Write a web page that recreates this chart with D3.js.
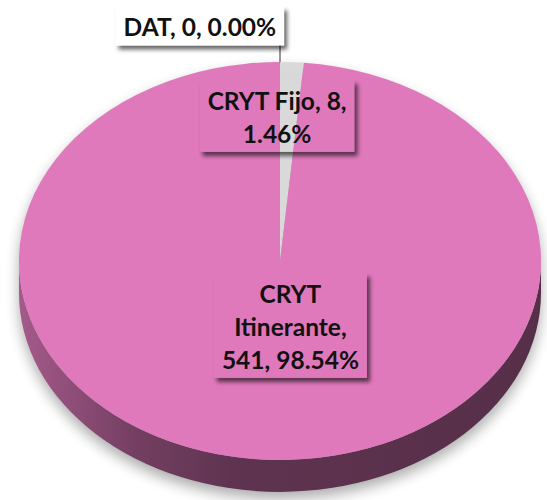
<!DOCTYPE html>
<html><head><meta charset="utf-8">
<script src="https://cdn.jsdelivr.net/npm/d3@7"></script>
<style>html,body{margin:0;padding:0;background:#fff;} svg{display:block;}</style>
</head><body>
<svg id="chart" width="547" height="500"></svg>
<script>
// Data
const categories = ["DAT", "CRYT Fijo", "CRYT Itinerante"];
const values = [0, 8, 541];
const colors = ["#4f81bd", "#d9d9d9", "#df79bc"];

// Layout
const W = 547, H = 500;
const cx = 280, cy = 261, rx = 261, ry = 199, depth = 32;
// label box centres, as fractions of the radii measured from the pie centre
const labelCenter = [[-0.307, -1.181], [-0.011, -0.729], [0.04, 0.324]];
const labelFill = ["#ffffff", "none", "none"];
const maxLabelWidth = 158, fontSize = 24.5, lineH = 33;
const fontFamily = "Lato, 'Open Sans', sans-serif";

const svg = d3.select("#chart");
const defs = svg.append("defs");

const total = d3.sum(values);
const pct = d3.format(".2%");
const arcs = d3.pie().sort(null).value(d => d)(values);

const pt = (a, dy = 0) => [cx + rx * Math.sin(a), cy - ry * Math.cos(a) + dy];

// filters
const pieShadow = defs.append("filter").attr("id", "pieShadow")
  .attr("x", "-20%").attr("y", "-20%").attr("width", "140%").attr("height", "140%");
pieShadow.append("feGaussianBlur").attr("stdDeviation", 7);

const boxShadow = defs.append("filter").attr("id", "boxShadow")
  .attr("x", "-20%").attr("y", "-40%").attr("width", "140%").attr("height", "180%");
boxShadow.append("feGaussianBlur").attr("stdDeviation", 2.2);

// soft shadow under the whole pie
svg.append("path")
  .attr("d", `M${cx - rx},${cy} A${rx},${ry} 0 0 1 ${cx + rx},${cy} L${cx + rx},${cy + depth} A${rx},${ry} 0 0 1 ${cx - rx},${cy + depth} Z`)
  .attr("transform", "translate(0,7)")
  .attr("fill", "#000").attr("opacity", 0.32)
  .attr("filter", "url(#pieShadow)");

// side walls (front half only)
const sideStops = [[0, 0.74], [0.22, 0.52], [0.42, 0.42], [1, 0.39]];
arcs.forEach((d, i) => {
  const s = Math.max(d.startAngle, Math.PI / 2), e = Math.min(d.endAngle, 3 * Math.PI / 2);
  if (e <= s) return;
  const base = d3.rgb(colors[i]);
  const g = defs.append("linearGradient").attr("id", "side" + i)
    .attr("gradientUnits", "userSpaceOnUse")
    .attr("x1", cx - rx).attr("x2", cx + rx).attr("y1", 0).attr("y2", 0);
  sideStops.forEach(([o, k]) => {
    g.append("stop").attr("offset", o)
      .attr("stop-color", d3.rgb(base.r * k, base.g * k, base.b * k).formatHex());
  });
  const p1 = pt(s), p2 = pt(e);
  const large = (e - s) > Math.PI ? 1 : 0;
  svg.append("path")
    .attr("d", `M${p1} A${rx},${ry} 0 ${large} 1 ${p2} L${pt(e, depth)} A${rx},${ry} 0 ${large} 0 ${pt(s, depth)} Z`)
    .attr("fill", `url(#side${i})`);
});

// top face
arcs.forEach((d, i) => {
  if (d.endAngle - d.startAngle <= 0) return;
  const large = (d.endAngle - d.startAngle) > Math.PI ? 1 : 0;
  svg.append("path")
    .attr("d", `M${cx},${cy} L${pt(d.startAngle)} A${rx},${ry} 0 ${large} 1 ${pt(d.endAngle)} Z`)
    .attr("fill", colors[i]);
});

// label text wrapping
const measure = svg.append("text").attr("font-family", fontFamily)
  .attr("font-weight", 700).attr("font-size", fontSize).attr("visibility", "hidden");
const textWidth = s => { measure.text(s); return measure.node().getComputedTextLength(); };
function wrap(str) {
  const words = str.split(" ");
  const lines = [];
  let cur = "";
  words.forEach(w => {
    const t = cur ? cur + " " + w : w;
    if (cur && textWidth(t) > maxLabelWidth) { lines.push(cur); cur = w; }
    else cur = t;
  });
  if (cur) lines.push(cur);
  return lines;
}

arcs.forEach((d, i) => {
  const lines = wrap(`${categories[i]}, ${values[i]}, ${pct(values[i] / total)}`);
  const tw = d3.max(lines, textWidth);
  const bw = tw + 16, bh = (lines.length - 1) * lineH + 39;
  const bx = cx + labelCenter[i][0] * rx, by = cy + labelCenter[i][1] * ry;
  const x0 = bx - bw / 2, y0 = by - bh / 2;

  // leader line for a label placed outside the pie
  if (labelCenter[i][1] < -1) {
    const p = pt((d.startAngle + d.endAngle) / 2);
    svg.append("line")
      .attr("x1", p[0]).attr("x2", p[0]).attr("y1", y0 + bh - 2).attr("y2", p[1])
      .attr("stroke", "#5f5f5f").attr("stroke-width", 1.3);
  }

  // box shadow, masked so it only shows outside the box
  const m = defs.append("mask").attr("id", "mask" + i).attr("maskUnits", "userSpaceOnUse")
    .attr("x", 0).attr("y", 0).attr("width", W).attr("height", H);
  m.append("rect").attr("width", W).attr("height", H).attr("fill", "#fff");
  m.append("rect").attr("x", x0).attr("y", y0).attr("width", bw).attr("height", bh).attr("fill", "#000");
  svg.append("g").attr("mask", `url(#mask${i})`)
    .append("rect").attr("x", x0 + 3).attr("y", y0 + 4).attr("width", bw).attr("height", bh)
    .attr("fill", "#000").attr("opacity", 0.6).attr("filter", "url(#boxShadow)");

  svg.append("rect").attr("x", x0).attr("y", y0).attr("width", bw).attr("height", bh)
    .attr("fill", labelFill[i]);

  const t = svg.append("text").attr("font-family", fontFamily).attr("font-weight", 700)
    .attr("font-size", fontSize).attr("fill", "#111").attr("text-anchor", "middle");
  lines.forEach((ln, k) => {
    t.append("tspan").attr("x", bx).attr("y", y0 + 30 + k * lineH).text(ln);
  });
});
measure.remove();
</script>
</body></html>
